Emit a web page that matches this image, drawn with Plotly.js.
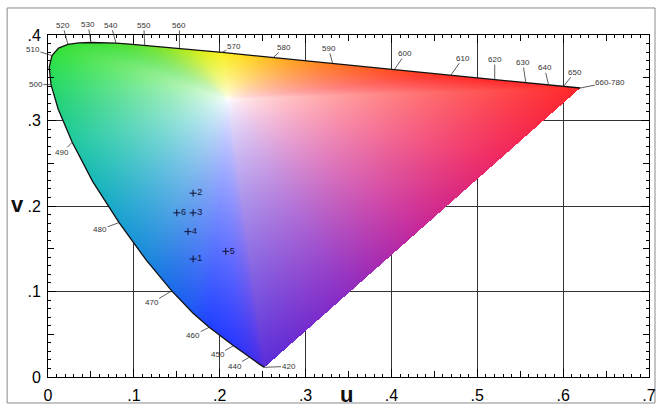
<!DOCTYPE html>
<html>
<head>
<meta charset="utf-8">
<script src="https://cdn.plot.ly/plotly-3.0.1.min.js"></script>
<style>
html,body{margin:0;padding:0;background:#ffffff;}
#chart{width:656px;height:408px;}
</style>
</head>
<body>
<div id="chart"></div>
<script>
// ---- Data: spectral locus in CIE 1960 UCS (u, v) ----
const wavelengths = [420,430,440,450,460,465,470,475,480,485,490,495,500,505,510,515,520,525,530,535,540,545,550,555,560,565,570,575,580,585,590,595,600,605,610,620,630,640,650,660,700];
const locusU = [0.2522,0.2461,0.2347,0.2161,0.1877,0.1690,0.1441,0.1147,0.0828,0.0521,0.0282,0.0119,0.0035,0.0014,0.0046,0.0123,0.0231,0.0360,0.0501,0.0643,0.0792,0.0953,0.1127,0.1319,0.1531,0.1766,0.2026,0.2312,0.2623,0.2960,0.3315,0.3681,0.4035,0.4379,0.4692,0.5203,0.5565,0.5830,0.6005,0.6109,0.6200];
const locusV = [0.0113,0.0151,0.0233,0.0366,0.0581,0.0746,0.1007,0.1363,0.1806,0.2285,0.2745,0.3132,0.3420,0.3621,0.3759,0.3847,0.3891,0.3908,0.3912,0.3910,0.3904,0.3894,0.3880,0.3864,0.3844,0.3821,0.3796,0.3767,0.3736,0.3703,0.3667,0.3631,0.3596,0.3561,0.3530,0.3479,0.3443,0.3417,0.3400,0.3389,0.3380];

// wavelength labels shown along the locus
const labelWavelengths = [420,440,450,460,470,480,490,500,510,520,530,540,550,560,570,580,590,600,610,620,630,640,650,700];
const labelTexts = ['420','440','450','460','470','480','490','500','510','520','530','540','550','560','570','580','590','600','610','620','630','640','650','660-780'];

// numbered sample points
const pointNames = ['1','2','3','4','5','6'];
const pointU = [0.169,0.169,0.169,0.163,0.207,0.150];
const pointV = [0.138,0.215,0.192,0.170,0.147,0.192];

// axis ticks
const xTickVals = [0,0.1,0.2,0.3,0.4,0.5,0.6,0.7];
const xTickText = ['0','.1','.2','.3','.4','.5','.6','.7'];
const yTickVals = [0,0.1,0.2,0.3,0.4];
const yTickText = ['0','.1','.2','.3','.4'];
const xMidTicks = [0.05,0.15,0.25,0.35,0.45,0.55,0.65];
const yMidTicks = [0.05,0.15,0.25,0.35];

// ---- styling: label offsets (px), edge colours, shading ----
const LABEL_OFFSETS = {
  '420':[24,-1],'440':[-15,9],'450':[-16,9],'460':[-16,8],'470':[-20,12],'480':[-19,7],
  '490':[-10,10],'500':[-15,0],'510':[-19,-6],'520':[-5,-19],'530':[-3,-18],'540':[-5,-18],
  '550':[-1,-20],'560':[0,-23],'570':[12,-6],'580':[11,-10],'590':[-4,-15],'600':[11,-16],
  '610':[12,-17],'620':[0,-20],'630':[-3,-20],'640':[-4,-17],'650':[11,-14],'660-780':[30,-6]
};
const EDGE_COLOURS = {
  420:'#5a2cd8',430:'#4a2ce8',440:'#3a30f0',450:'#2838ff',460:'#2040ff',465:'#1e55f5',470:'#1a6ae8',
  475:'#1a88dc',480:'#18a0d0',485:'#18b8b8',490:'#20c8a0',495:'#22d080',500:'#26d866',505:'#2ade50',
  510:'#30e040',515:'#36e038',520:'#38e038',525:'#38e038',530:'#3ae038',535:'#40e036',540:'#48e034',
  545:'#54e032',550:'#66e230',555:'#82e428',560:'#a8e820',565:'#d8f018',570:'#f8f020',575:'#ffd820',
  580:'#ffb820',585:'#ff9820',590:'#ff7a20',595:'#ff6020',600:'#ff4c20',605:'#ff3a20',610:'#ff2e24',
  620:'#ff2828',630:'#ff2828',640:'#ff2828',650:'#ff2828',660:'#ff2828',700:'#ff2828'
};
const PURPLE_RAMP = [[0,'#ff2828'],[0.25,'#f02860'],[0.5,'#c82898'],[0.75,'#8a2cc4'],[1,'#5a2cd8']];
const WHITE_CENTRE = [0.21, 0.325];
const SHADE_POWER = 0.7;

const X_RANGE = [0, 0.7], Y_RANGE = [0, 0.4];
const PLOT_W = 601, PLOT_H = 342;

function hexRgb(h) { return [parseInt(h.substr(1,2),16), parseInt(h.substr(3,2),16), parseInt(h.substr(5,2),16)]; }
function lerp3(a, b, s) { return [a[0]+(b[0]-a[0])*s, a[1]+(b[1]-a[1])*s, a[2]+(b[2]-a[2])*s]; }
const vertexCol = wavelengths.map(function (w) { return hexRgb(EDGE_COLOURS[w]); });
const rampCol = PURPLE_RAMP.map(function (r) { return [r[0], hexRgb(r[1])]; });
function rampAt(s) {
  for (let i = 0; i < rampCol.length - 1; i++) {
    if (s <= rampCol[i+1][0]) {
      const f = (s - rampCol[i][0]) / (rampCol[i+1][0] - rampCol[i][0]);
      return lerp3(rampCol[i][1], rampCol[i+1][1], Math.max(0, Math.min(1, f)));
    }
  }
  return rampCol[rampCol.length-1][1];
}

function insideLocus(u, v) {
  let inside = false;
  const n = locusU.length;
  for (let i = 0, j = n - 1; i < n; j = i++) {
    const xi = locusU[i], yi = locusV[i], xj = locusU[j], yj = locusV[j];
    if (((yi > v) !== (yj > v)) && (u < (xj - xi) * (v - yi) / (yj - yi) + xi)) inside = !inside;
  }
  return inside;
}
function fieldColour(u, v) {
  const W = WHITE_CENTRE;
  const dx = u - W[0], dy = v - W[1];
  if (Math.abs(dx) < 1e-12 && Math.abs(dy) < 1e-12) return [255,255,255];
  const n = locusU.length;
  let best = Infinity, edge = [255,255,255];
  for (let k = 0; k < n; k++) {
    const k2 = (k + 1) % n;
    const ax = locusU[k] - W[0], ay = locusV[k] - W[1];
    const ex = locusU[k2] - locusU[k], ey = locusV[k2] - locusV[k];
    const det = -dx * ey + ex * dy;
    if (Math.abs(det) < 1e-14) continue;
    const lam = (-ax * ey + ex * ay) / det;
    const s = (dx * ay - dy * ax) / det;
    if (lam > 0 && s >= -1e-9 && s <= 1 + 1e-9 && lam < best) {
      best = lam;
      const ss = Math.max(0, Math.min(1, s));
      // closing segment (700 -> 420) is the purple line
      edge = (k2 === 0) ? rampAt(ss) : lerp3(vertexCol[k], vertexCol[k2], ss);
    }
  }
  let t = Math.min(1, 1 / best);
  t = Math.pow(t, SHADE_POWER);
  return lerp3([255,255,255], edge, t).map(Math.round);
}

const du = (X_RANGE[1] - X_RANGE[0]) / PLOT_W;
const dv = (Y_RANGE[1] - Y_RANGE[0]) / PLOT_H;
const maxU = Math.max.apply(null, locusU);
const maxV = Math.max.apply(null, locusV);
const nCols = Math.ceil(maxU / du) + 1;
const nRows = Math.ceil(maxV / dv) + 1;
const img = [];
for (let j = 0; j < nRows; j++) {
  const row = [];
  const v = dv / 2 + j * dv;
  for (let i = 0; i < nCols; i++) {
    const u = du / 2 + i * du;
    if (insideLocus(u, v)) {
      const c = fieldColour(u, v);
      row.push([c[0], c[1], c[2], 1]);
    } else {
      row.push([255, 255, 255, 0]);
    }
  }
  img.push(row);
}

// ---- traces ----
const traces = [
  {
    type: 'image', z: img, colormodel: 'rgba',
    x0: du / 2, y0: dv / 2, dx: du, dy: dv, hoverinfo: 'skip'
  },
  {
    type: 'scatter', mode: 'lines', x: locusU, y: locusV,
    line: {color: '#111111', width: 1.3}, hoverinfo: 'skip', showlegend: false
  },
  {
    type: 'scatter', mode: 'markers+text', x: pointU, y: pointV, text: pointNames,
    textposition: 'middle right',
    textfont: {family: 'Liberation Sans, Arial, sans-serif', size: 9, color: '#101035'},
    marker: {symbol: 'cross-thin', size: 5, color: '#101035', line: {width: 1, color: '#101035'}},
    hoverinfo: 'skip', showlegend: false
  },
  {
    type: 'scatter', mode: 'markers', x: [], y: [], xaxis: 'x2', yaxis: 'y2',
    hoverinfo: 'skip', showlegend: false
  }
];

// ---- annotations: wavelength labels and axis titles ----
const annotations = labelWavelengths.map(function (wl, k) {
  const idx = wavelengths.indexOf(wl);
  const off = LABEL_OFFSETS[labelTexts[k]];
  return {
    x: locusU[idx], y: locusV[idx], xref: 'x', yref: 'y',
    text: labelTexts[k], showarrow: true, arrowhead: 0, arrowwidth: 0.8,
    arrowcolor: '#333333', standoff: 0, startstandoff: 0,
    ax: off[0], ay: off[1], borderpad: 0,
    font: {family: 'Liberation Sans, Arial, sans-serif', size: 8, color: '#333333'}
  };
});
annotations.push({
  xref: 'paper', yref: 'paper', x: -0.05, y: 0.503, xanchor: 'center', yanchor: 'middle',
  showarrow: false, text: '<b>v</b>',
  font: {family: 'Liberation Sans, Arial, sans-serif', size: 22, color: '#111111'}
});
annotations.push({
  xref: 'paper', yref: 'paper', x: 0.496, y: -0.051, xanchor: 'center', yanchor: 'middle',
  showarrow: false, text: '<b>u</b>',
  font: {family: 'Liberation Sans, Arial, sans-serif', size: 22, color: '#111111'}
});

const tickFont = {family: 'Liberation Sans, Arial, sans-serif', size: 16, color: '#000000'};

const layout = {
  width: 656, height: 408,
  margin: {l: 48, r: 7, t: 35, b: 31, pad: 0},
  paper_bgcolor: '#ffffff', plot_bgcolor: '#ffffff',
  showlegend: false,
  xaxis: {
    range: X_RANGE, autorange: false, tickmode: 'array', tickvals: xTickVals, ticktext: xTickText,
    ticks: 'inside', ticklen: 8, tickwidth: 1, tickcolor: '#000000',
    showline: true, linecolor: '#000000', linewidth: 1, mirror: 'ticks',
    showgrid: true, gridcolor: '#333333', gridwidth: 1, zeroline: false,
    tickfont: tickFont, ticklabelstandoff: 4, fixedrange: true,
    minor: {tickmode: 'linear', tick0: 0, dtick: 0.01, ticks: 'inside', ticklen: 3, tickwidth: 1, tickcolor: '#000000', showgrid: false}
  },
  yaxis: {
    range: Y_RANGE, autorange: false, scaleanchor: false, tickmode: 'array', tickvals: yTickVals, ticktext: yTickText,
    ticks: 'inside', ticklen: 8, tickwidth: 1, tickcolor: '#000000',
    showline: true, linecolor: '#000000', linewidth: 1, mirror: 'ticks',
    showgrid: true, gridcolor: '#333333', gridwidth: 1, zeroline: false,
    tickfont: tickFont, ticklabelstandoff: 3, fixedrange: true,
    minor: {tickmode: 'linear', tick0: 0, dtick: 0.01, ticks: 'inside', ticklen: 3, tickwidth: 1, tickcolor: '#000000', showgrid: false}
  },
  xaxis2: {
    overlaying: 'x', anchor: 'y', side: 'bottom', range: X_RANGE, autorange: false,
    tickmode: 'array', tickvals: xMidTicks, ticks: 'inside', ticklen: 6, tickcolor: '#000000',
    mirror: 'ticks', showline: false, showgrid: false, zeroline: false, showticklabels: false, fixedrange: true
  },
  yaxis2: {
    overlaying: 'y', anchor: 'x', side: 'left', range: Y_RANGE, autorange: false,
    tickmode: 'array', tickvals: yMidTicks, ticks: 'inside', ticklen: 6, tickcolor: '#000000',
    mirror: 'ticks', showline: false, showgrid: false, zeroline: false, showticklabels: false, fixedrange: true
  },
  annotations: annotations,
  shapes: [{
    type: 'rect', xref: 'paper', yref: 'paper', layer: 'below',
    x0: -0.068, x1: 1.01, y0: -0.076, y1: 1.079,
    line: {color: '#8a8a8a', width: 1}
  }]
};

Plotly.newPlot('chart', traces, layout, {displayModeBar: false, staticPlot: true});
</script>
</body>
</html>
